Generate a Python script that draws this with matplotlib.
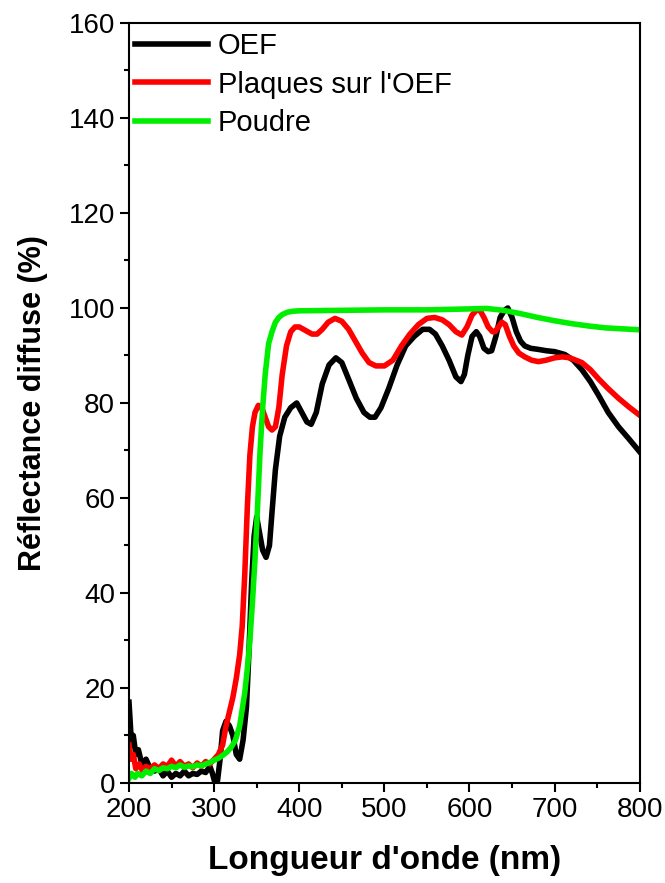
import numpy as np
import matplotlib
matplotlib.use("Agg")
from matplotlib import pyplot as plt
from matplotlib.ticker import MultipleLocator

plt.rcParams['font.family'] = ['Liberation Sans', 'DejaVu Sans']

# OEF
wl_oef = [200, 201, 203, 205, 208, 211, 215, 220, 225, 230, 235, 240, 245, 250,
          255, 260, 265, 270, 275, 280, 285, 290, 295, 298, 301, 304, 307, 310,
          314, 318, 322, 326, 330, 334, 338, 341, 344, 347, 350, 353, 357, 361,
          365, 368, 372, 377, 383, 390, 397, 403, 409, 414, 420, 427, 435, 443,
          450, 458, 467, 476, 483, 489, 496, 505, 515, 525, 535, 545, 553, 560,
          568, 576, 584, 590, 594, 598, 603, 608, 612, 617, 622, 626, 631, 636,
          641, 645, 650, 655, 660, 665, 672, 680, 690, 700, 712, 722, 732, 742,
          752, 763, 775, 787, 800]
r_oef = [17, 14, 8, 10, 6, 7, 4, 5, 3, 2.5, 3, 1.5, 2.5, 1.2,
         2, 1.5, 2.5, 1.5, 2, 1.8, 2.5, 2.2, 3.5, 2, 0, 0.5, 5, 11,
         13, 12, 10, 6, 5, 9, 16, 28, 42, 52, 56, 53, 49, 47.5,
         50, 57, 66, 73, 77, 79, 80, 78, 76, 75.5, 78, 84, 88, 89.5,
         88.5, 85, 81, 78, 77, 77, 79, 83, 88, 92, 94, 95.5, 95.5, 94.5,
         92, 89, 85.5, 84.5, 86, 90, 94, 95, 94, 91.5, 90.8, 91, 94, 98,
         99.5, 100, 98, 95, 93, 92, 91.5, 91.3, 91, 90.8, 90.2, 89, 87, 84.5,
         81.5, 78, 75, 72.5, 69.7]

# Plaques sur l'OEF
wl_plq = [200, 202, 205, 208, 212, 216, 220, 225, 230, 235, 240, 245, 250, 255,
          260, 265, 270, 275, 280, 285, 290, 295, 300, 305, 310, 314, 318, 322,
          326, 330, 333, 336, 339, 342, 345, 348, 352, 356, 360, 364, 368, 372,
          376, 380, 385, 390, 395, 400, 405, 410, 415, 421, 427, 434, 442, 450,
          458, 466, 474, 482, 490, 500, 510, 520, 530, 540, 550, 559, 568, 576,
          584, 591, 597, 603, 608, 612, 617, 622, 627, 630, 634, 638, 642, 647,
          652, 658, 665, 673, 681, 690, 700, 709, 718, 725, 732, 742, 752, 763,
          775, 787, 800]
r_plq = [8, 5, 6, 3, 4, 2.5, 3.5, 3, 3.8, 3, 4, 3.5, 4.8, 3.5,
         4.5, 3.5, 4, 3.2, 4.2, 3.5, 4.5, 4, 5, 6, 8, 12, 15, 18,
         22, 27, 33, 44, 58, 69, 75, 78, 79.5, 79, 77, 75, 74.3, 75,
         79, 86, 92, 95, 96, 96, 95.5, 95, 94.5, 94.5, 95.5, 97, 97.8, 97.2,
         95.5, 93, 90.5, 88.5, 87.8, 87.8, 89, 92, 94.5, 96.5, 97.8, 98, 97.5, 96.5,
         95, 94.3, 96, 98.5, 99.5, 99.6, 98, 96, 95, 95, 96, 97, 96.5, 94,
         92, 90.5, 89.7, 89, 88.7, 89, 89.5, 89.7, 89.5, 89, 88.5, 87, 85, 83,
         81, 79.2, 77.4]

# Poudre
wl_pdr = [200, 203, 207, 210, 215, 220, 225, 230, 235, 240, 245, 250, 255, 260,
          265, 270, 275, 280, 285, 290, 295, 300, 305, 310, 315, 320, 325, 330,
          333, 336, 339, 342, 345, 348, 351, 354, 357, 360, 364, 368, 372, 376,
          380, 386, 392, 400, 450, 500, 550, 600, 620, 640, 660, 680, 700, 720,
          740, 760, 780, 800]
r_pdr = [1, 2, 1.2, 2, 1.5, 2.5, 2, 3, 2.6, 3.2, 3, 3.5, 3.2, 3.8,
         3.3, 3.6, 3.4, 3.8, 3.6, 4, 4.3, 4.8, 5.2, 5.8, 6.5, 7.5, 9, 12,
         15.5, 19, 24, 30, 38, 47, 58, 70, 79, 86, 92.5, 95, 97, 98,
         98.6, 99.1, 99.3, 99.4, 99.5, 99.6, 99.6, 99.8, 99.9, 99.5, 98.8, 98, 97.3, 96.7,
         96.2, 95.8, 95.6, 95.4]

fig = plt.figure(figsize=(6.65, 8.83), dpi=100)
ax = fig.add_axes([0.194, 0.1133, 0.768, 0.8607])

ax.plot(wl_oef, r_oef, color='black', lw=4, label='OEF')
ax.plot(wl_plq, r_plq, color='#ff0000', lw=4, label="Plaques sur l'OEF")
ax.plot(wl_pdr, r_pdr, color='#00ee00', lw=4, label='Poudre')

ax.set_xlim(200, 800)
ax.set_ylim(0, 160)
ax.xaxis.set_major_locator(MultipleLocator(100))
ax.xaxis.set_minor_locator(MultipleLocator(50))
ax.yaxis.set_major_locator(MultipleLocator(20))
ax.yaxis.set_minor_locator(MultipleLocator(10))
ax.tick_params(which='both', direction='out', width=1.5, labelsize=20,
               top=False, right=False)
ax.tick_params(which='major', length=6.5)
ax.tick_params(which='minor', length=3.5)
for s in ax.spines.values():
    s.set_linewidth(1.5)

ax.set_xlabel("Longueur d'onde (nm)", fontsize=24, fontweight='bold', labelpad=16)
ax.set_ylabel("Réflectance diffuse (%)", fontsize=22, fontweight='bold', labelpad=15)

ax.legend(loc='upper left', bbox_to_anchor=(0.0, 0.996), frameon=False,
          fontsize=21, handlelength=2.5, handletextpad=0.35, labelspacing=0.37,
          borderaxespad=0.1, borderpad=0.1)

fig.savefig('out.png', dpi=100)
